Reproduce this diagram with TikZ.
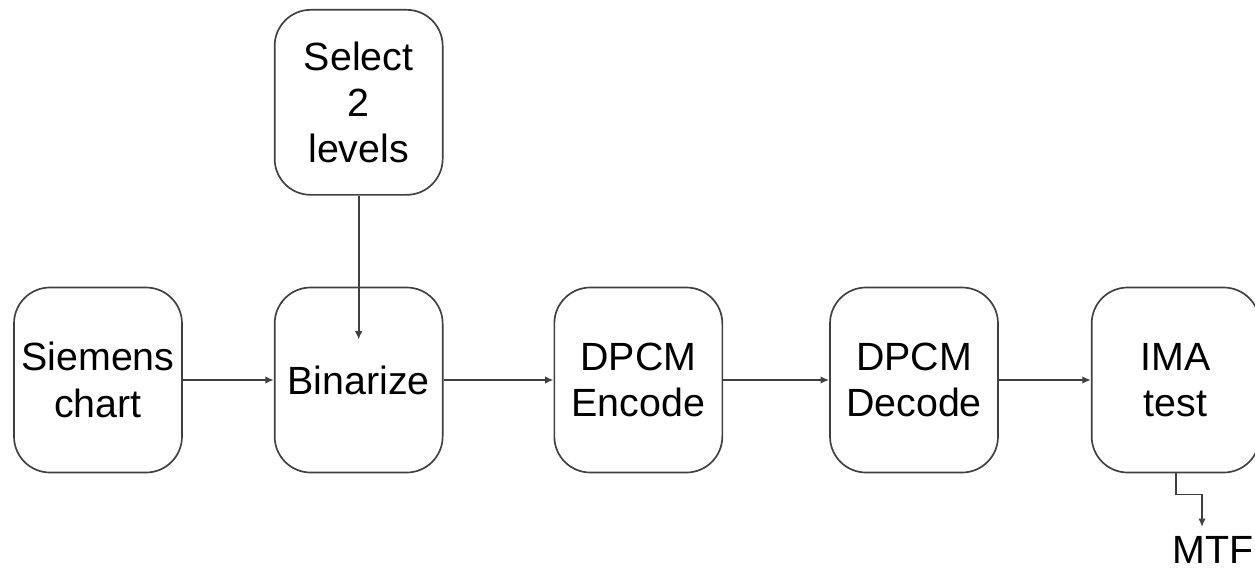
\documentclass[tikz,border=0pt]{standalone}
\usepackage{fontspec}
\setmainfont{Liberation Sans}
\usetikzlibrary{positioning}
\usetikzlibrary{shapes,arrows.meta}
\tikzstyle{line} = [draw=black!75, -{Latex[length=1.7mm,width=1.5mm]}]
\tikzstyle{block} = [draw=black!75, rectangle, rounded corners=0.72cm, minimum width=3.36cm, minimum height=3.7cm, align=center, font=\fontsize{22.4}{26.4}\selectfont]

\begin{document}
\begin{tikzpicture}[node distance = 1.82cm, line width=0.95pt]
	\useasboundingbox (0,0) rectangle (25.1,-11.54);
	\node[block] (siemens) at (1.96,-7.6) {Siemens\\chart};
	\node[block] (binarize) [right = of siemens] {Binarize};
	\node[block] (select) [above = of binarize] {Select\\2\\levels};
	\node[block] (encode) [right = 2.2cm of binarize] {DPCM\\Encode};
	\node[block] (decode) [right = 2.12cm of encode] {DPCM\\Decode};
	\node[block] (ima) [right = 1.84cm of decode] {IMA\\test};
	\node[font=\fontsize{22.4}{26.4}\selectfont] (mtf) at (24.26,-11.0) {MTF};
	\coordinate (mtfin) at (24.04,-10.54);
	
	\path [line] (select.south) -- ([yshift=-1.06cm]binarize.north);
	\path [line] (siemens) -- (binarize);
	\path [line] (binarize) -- (encode);
	\path [line] (encode) -- (decode);
	\path [line] (decode) -- (ima);
	\path [line] (ima.south) -- ++(0,-0.42) -| (mtfin);
\end{tikzpicture}
\end{document}
